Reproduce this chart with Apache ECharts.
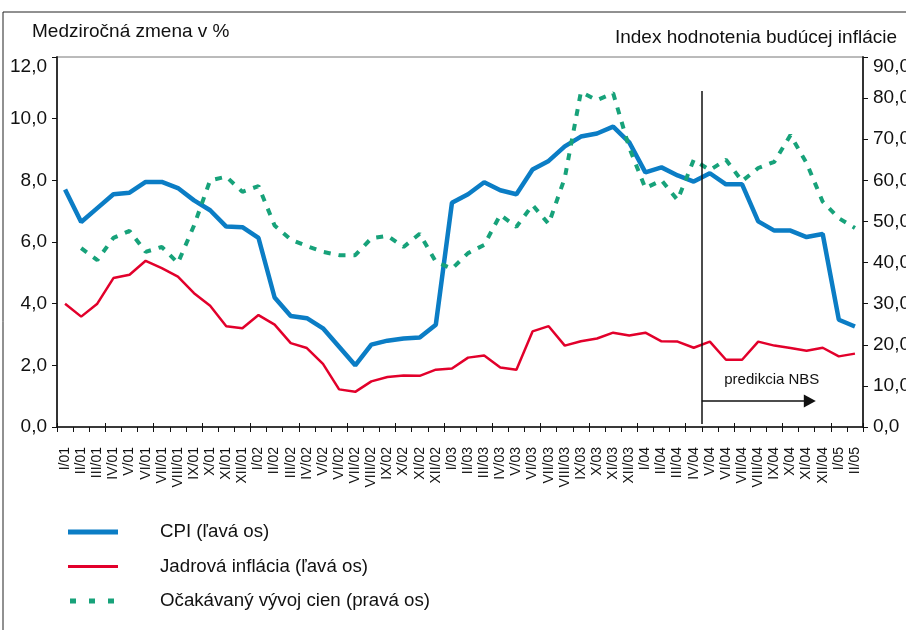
<!DOCTYPE html>
<html>
<head>
<meta charset="utf-8">
<script src="https://cdn.jsdelivr.net/npm/echarts@6/dist/echarts.min.js"></script>
<style>
  html, body { margin: 0; padding: 0; background: #fff; }
  #chart { width: 906px; height: 630px; }
</style>
</head>
<body>
<div id="chart"></div>
<script>
// mesiace I/01 .. II/05
var months = ['I/01','II/01','III/01','IV/01','V/01','VI/01','VII/01','VIII/01','IX/01','X/01','XI/01','XII/01',
  'I/02','II/02','III/02','IV/02','V/02','VI/02','VII/02','VIII/02','IX/02','X/02','XI/02','XII/02',
  'I/03','II/03','III/03','IV/03','V/03','VI/03','VII/03','VIII/03','IX/03','X/03','XI/03','XII/03',
  'I/04','II/04','III/04','IV/04','V/04','VI/04','VII/04','VIII/04','IX/04','X/04','XI/04','XII/04',
  'I/05','II/05']

var cpi = [7.7, 6.65, 7.1, 7.55, 7.6, 7.95, 7.95, 7.75, 7.35, 7.03, 6.5, 6.48,
  6.13, 4.2, 3.6, 3.53, 3.2, 2.6, 2.0, 2.67, 2.8, 2.87, 2.9, 3.32,
  7.27, 7.55, 7.94, 7.68, 7.55, 8.35, 8.63, 9.1, 9.42, 9.52, 9.74, 9.23,
  8.26, 8.42, 8.16, 7.96, 8.23, 7.87, 7.87, 6.67, 6.37, 6.37, 6.16, 6.26,
  3.48, 3.26]

var core = [4.0, 3.58, 4.0, 4.83, 4.94, 5.39, 5.15, 4.88, 4.34, 3.93, 3.27, 3.2,
  3.63, 3.32, 2.72, 2.56, 2.05, 1.22, 1.14, 1.48, 1.62, 1.67, 1.66, 1.86,
  1.9, 2.25, 2.32, 1.93, 1.86, 3.1, 3.27, 2.64, 2.78, 2.87, 3.06, 2.97,
  3.06, 2.78, 2.77, 2.57, 2.77, 2.18, 2.18, 2.77, 2.64, 2.56, 2.47, 2.57,
  2.29, 2.38]

var expect = [null, 43.5, 40.6, 46, 47.7, 42.6, 43.8, 39.9, 49, 60, 60.9, 57.2,
  58.6, 49, 45.6, 44, 42.6, 41.8, 41.8, 45.9, 46.5, 43.8, 47, 40.2,
  38.5, 42.3, 44.3, 51.6, 48.7, 54, 49.4, 60.6, 81.5, 79.5, 81.2, 67.9,
  58.1, 60, 55.2, 65, 62.5, 65, 59.8, 63, 64.5, 71, 64.2, 54.8,
  50.8, 48.4]

var leftTicks = [0, 2, 4, 6, 8, 10, 12]
var rightTicks = [0, 10, 20, 30, 40, 50, 60, 70, 80, 90]

// predikcia od hranice IV/04 | V/04 (index mesiaca)
var predStart = 39.5
var predEnd = 46.2
var predTop = 10.9
var arrowLevel = 0.84

var FONT = '"Liberation Sans Narrow", "Liberation Sans", Arial, sans-serif'

var chart = echarts.init(document.getElementById('chart'))

var fmt = function (v) { return v.toFixed(1).replace('.', ',') }

var tickLabel = function (ticks, max) {
  return function (v) {
    if (ticks.indexOf(v) < 0) return ''
    // horny popis je v originali posunuty nizsie
    return v === max ? '{top|' + fmt(v) + '}' : fmt(v)
  }
}

chart.setOption({
  animation: false,
  textStyle: { fontFamily: FONT },
  graphic: [{
    type: 'rect',
    shape: { x: 3, y: 12, width: 920, height: 640 },
    style: { fill: 'none', stroke: '#222', lineWidth: 1 },
    silent: true
  }],
  title: [{
    text: 'Medziročná zmena v %',
    left: 27, top: 17,
    textStyle: { fontSize: 19, fontWeight: 'normal', color: '#111', fontFamily: FONT }
  }, {
    text: 'Index hodnotenia budúcej inflácie',
    right: 4, top: 23,
    textStyle: { fontSize: 19, fontWeight: 'normal', color: '#111', fontFamily: FONT }
  }],
  grid: {
    left: 57, right: 43, top: 57, bottom: 203,
    outerBoundsMode: 'none',
    containLabel: false,
    show: true, borderColor: '#777', borderWidth: 1
  },
  legend: {
    orient: 'vertical',
    left: 63, top: 517,
    itemWidth: 50, itemHeight: 14, itemGap: 14.5,
    selectedMode: false,
    textStyle: { fontSize: 18.7, lineHeight: 20, color: '#111', fontFamily: FONT, padding: [0, 0, 0, 37] },
    data: [
      { name: 'CPI (ľavá os)', icon: 'path://M0,0H50V5H0Z' },
      { name: 'Jadrová inflácia (ľavá os)', icon: 'path://M0,0H50V3H0Z' },
      { name: 'Očakávaný vývoj cien (pravá os)', icon: 'path://M2,0H8V5H2ZM21,0H27V5H21ZM40,0H46V5H40ZM0,0H0.01V0.01H0ZM50,0H49.99V0.01H50Z' }
    ]
  },
  xAxis: [{
    type: 'category',
    data: months,
    boundaryGap: true,
    axisLine: { onZero: false, lineStyle: { color: '#111', width: 1.5 } },
    axisTick: { show: true, length: 5, alignWithLabel: false, lineStyle: { color: '#111' } },
    axisLabel: {
      rotate: 90, interval: 0, margin: 20,
      fontSize: 14, color: '#111', fontFamily: FONT
    }
  }, {
    type: 'category',
    data: months,
    boundaryGap: true,
    position: 'bottom',
    axisLine: { show: false, onZero: false },
    axisTick: { show: true, inside: true, length: 4, lineStyle: { color: '#111' } },
    axisLabel: { show: false }
  }, {
    // pomocna os pre hranicu predikcie medzi mesiacmi
    type: 'value',
    min: -0.5, max: months.length - 0.5,
    axisLine: { onZero: false },
    show: false
  }],
  yAxis: [{
    type: 'value',
    min: 0, max: 12, interval: 2,
    position: 'left',
    axisLine: { show: true, onZero: false, lineStyle: { color: '#333', width: 2 } },
    axisTick: { show: true, length: 5, lineStyle: { color: '#111' } },
    splitLine: { show: false },
    axisLabel: {
      margin: 10, fontSize: 19, color: '#111', fontFamily: FONT,
      formatter: tickLabel(leftTicks, 12),
      rich: { top: { fontSize: 19, padding: [20, 0, 0, 0], color: '#111', fontFamily: FONT } }
    }
  }, {
    type: 'value',
    min: 0, max: 90, interval: 10,
    position: 'right',
    axisLine: { show: true, onZero: false, lineStyle: { color: '#333', width: 2 } },
    axisTick: { show: true, length: 5, lineStyle: { color: '#111' } },
    splitLine: { show: false },
    axisLabel: {
      margin: 10, fontSize: 19, color: '#111', fontFamily: FONT,
      formatter: tickLabel(rightTicks, 90),
      rich: { top: { fontSize: 19, padding: [20, 0, 0, 0], color: '#111', fontFamily: FONT } }
    }
  }],
  series: [{
    name: 'CPI (ľavá os)',
    type: 'line',
    data: cpi,
    yAxisIndex: 0,
    symbol: 'none',
    z: 3,
    lineStyle: { color: '#0b7dc5', width: 4.5 },
    itemStyle: { color: '#0b7dc5' }
  }, {
    name: 'Jadrová inflácia (ľavá os)',
    type: 'line',
    data: core,
    yAxisIndex: 0,
    symbol: 'none',
    z: 2,
    lineStyle: { color: '#e2002b', width: 2.5 },
    itemStyle: { color: '#e2002b' }
  }, {
    name: 'Očakávaný vývoj cien (pravá os)',
    type: 'line',
    data: expect,
    yAxisIndex: 1,
    symbol: 'none',
    z: 4,
    lineStyle: { color: '#17a27a', width: 4, type: [7, 8] },
    itemStyle: { color: '#17a27a' }
  }, {
    name: 'predikcia',
    type: 'line',
    xAxisIndex: 2,
    yAxisIndex: 0,
    data: [],
    z: 5,
    markLine: {
      silent: true,
      symbol: 'none',
      lineStyle: { color: '#111', width: 1.5, type: 'solid' },
      label: { show: false },
      data: [[
        { coord: [predStart, predTop] },
        { coord: [predStart, 0.1] }
      ], [
        {
          coord: [predStart, arrowLevel],
          symbol: 'none',
          label: {
            show: true, position: 'middle', formatter: 'predikcia NBS',
            fontSize: 15, color: '#111', fontFamily: FONT,
            padding: [0, 0, 0, 32], distance: 14
          }
        },
        { coord: [predEnd, arrowLevel], symbol: 'triangle', symbolSize: [13, 12], symbolRotate: -90 }
      ]]
    }
  }]
})
</script>
</body>
</html>
